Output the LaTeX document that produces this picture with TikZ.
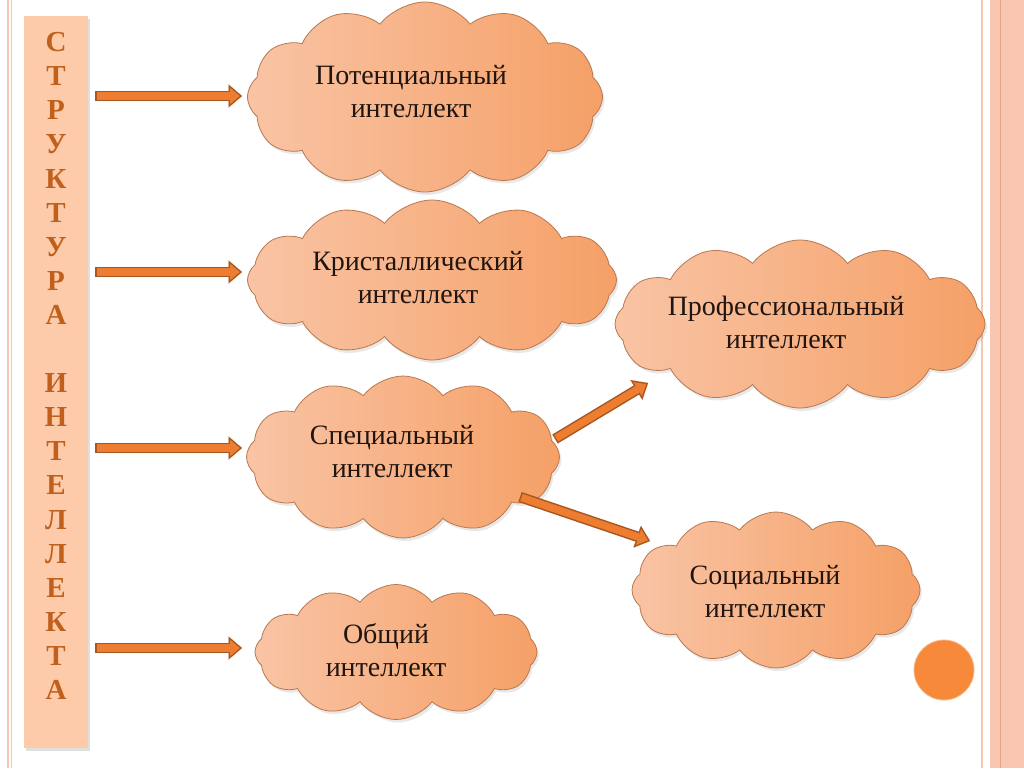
\documentclass[tikz,border=0pt]{standalone}
\usepackage{fontspec}
\setmainfont{Liberation Serif}
\newfontfamily\titlefont{Liberation Serif Bold}
\usetikzlibrary{shapes.symbols,shadows,arrows.meta,calc}
\definecolor{barpeach}{HTML}{FDCBAA}
\definecolor{lettercol}{HTML}{C0601C}
\definecolor{arrfill}{HTML}{ED7D31}
\definecolor{arrborder}{HTML}{A9561E}
\definecolor{cloudL}{HTML}{F9C4A5}
\definecolor{cloudR}{HTML}{F5A067}
\definecolor{cloudborder}{HTML}{B9784E}
\definecolor{framepink}{HTML}{F9C6B1}
\definecolor{framedark}{HTML}{E6A58A}
\definecolor{dotcol}{HTML}{F7893A}
\definecolor{textcol}{HTML}{201510}
\begin{document}
\begin{tikzpicture}[x=1pt,y=-1pt,
  cloudbox/.style={cloud, cloud puffs=12, cloud puff arc=105, aspect=1.9,
    draw=cloudborder, line width=0.8pt, left color=cloudL, right color=cloudR,
    inner sep=0pt,
    drop shadow={opacity=0.18, shadow xshift=2pt, shadow yshift=-3pt}},
  cloudtext/.style={font=\fontsize{28}{33}\selectfont, text=textcol, align=center},
  arrout/.style={draw=arrborder, line width=10.5pt,
    -{Triangle[length=13.5pt,width=23pt,line width=0.01pt]}},
  arrin/.style={draw=arrfill, line width=7.5pt, shorten <=1.5pt, shorten >=2.3pt,
    -{Triangle[length=9.7pt,width=16.5pt,line width=0.01pt]}}
]
\useasboundingbox (0,0) rectangle (1024,768);
\fill[white] (0,0) rectangle (1024,768);
% frame lines
\draw[framepink, line width=1.2pt] (8,0) -- (8,768);
\draw[framepink, line width=1pt] (11,0) -- (11,768);
\draw[framepink, line width=2.5pt] (982,0) -- (982,768);
\fill[framepink] (990,0) rectangle (1024,768);
\draw[framedark, line width=1pt] (1000,0) -- (1000,768);

% title bar
\node[fill=barpeach, minimum width=64pt, minimum height=732pt, inner sep=0pt,
  anchor=north west, drop shadow={opacity=0.25, shadow xshift=2pt, shadow yshift=-3pt}]
  (bar) at (24,16) {};
\node[font=\titlefont\fontsize{29}{34.1}\selectfont, text=lettercol, align=center,
  inner sep=0pt] (title) at (56,366)
  {С\\Т\\Р\\У\\К\\Т\\У\\Р\\А\\\mbox{}\\И\\Н\\Т\\Е\\Л\\Л\\Е\\К\\Т\\А};

% clouds
\node[cloudbox, minimum width=355pt, minimum height=190pt] (c1) at (425,97) {};
\node[cloudbox, minimum width=369pt, minimum height=160pt] (c2) at (432,280) {};
\node[cloudbox, minimum width=313pt, minimum height=162pt] (c3) at (403,457) {};
\node[cloudbox, minimum width=282pt, minimum height=135pt] (c4) at (396,652) {};
\node[cloudbox, minimum width=370pt, minimum height=168pt] (c5) at (800,324) {};
\node[cloudbox, minimum width=288pt, minimum height=156pt] (c6) at (776,590) {};

\node[cloudtext] (t1) at (411,92) {Потенциальный\\интеллект};
\node[cloudtext] (t2) at (418,278) {Кристаллический\\интеллект};
\node[cloudtext] (t3) at (392,452) {Специальный\\интеллект};
\node[cloudtext] (t4) at (386,650) {Общий\\интеллект};
\node[cloudtext] (t5) at (786,322) {Профессиональный\\интеллект};
\node[cloudtext] (t6) at (765,592) {Социальный\\интеллект};

% arrows
\coordinate (s1) at (95,96);  \coordinate (e1) at (242,96);
\coordinate (s2) at (95,272); \coordinate (e2) at (242,272);
\coordinate (s3) at (95,448); \coordinate (e3) at (242,448);
\coordinate (s4) at (95,648); \coordinate (e4) at (242,648);
\coordinate (s5) at (555,439); \coordinate (e5) at (648,383);
\coordinate (s6) at (520,497); \coordinate (e6) at (650,541);
\foreach \i in {1,...,6}{
  \draw[arrout] (s\i) -- (e\i);
  \draw[arrin] (s\i) -- (e\i);
}

% dot
\node[circle, fill=dotcol, draw=dotcol!60!white, line width=0.8pt,
  minimum size=60pt, inner sep=0pt] (dot) at (944,670) {};
\end{tikzpicture}
\end{document}
